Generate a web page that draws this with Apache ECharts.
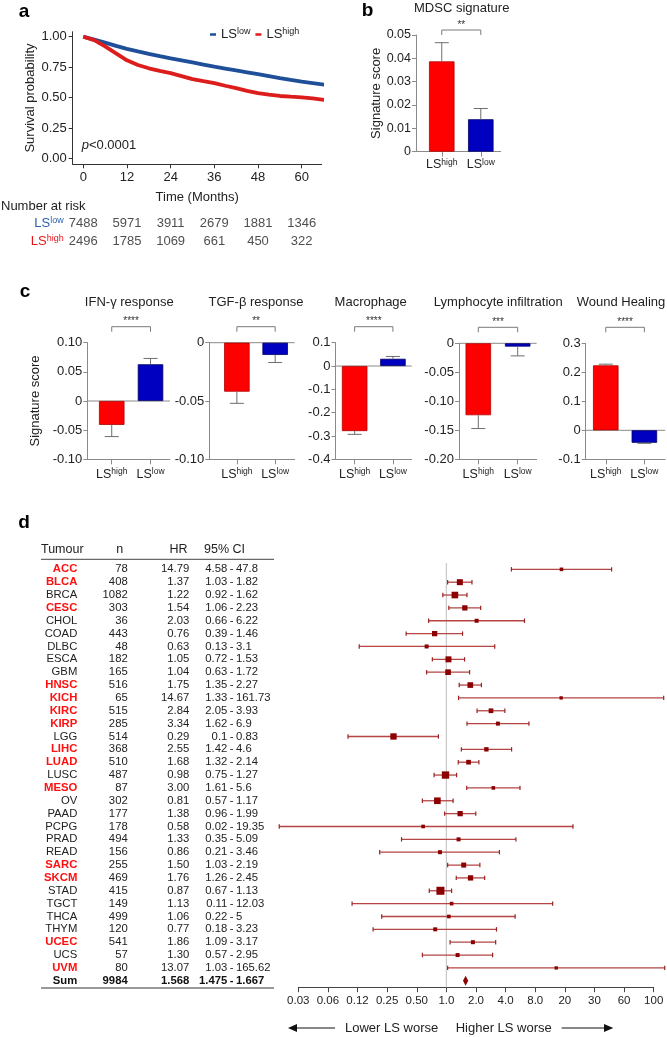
<!DOCTYPE html>
<html>
<head>
<meta charset="utf-8">
<script src="https://cdn.jsdelivr.net/npm/echarts@6/dist/echarts.min.js"></script>
<style>
  html, body { margin: 0; padding: 0; background: #fff; }
  #chart { width: 667px; height: 1037px; }
</style>
</head>
<body>
<div id="chart"></div>
<script>
// ---- a: survival curves + number at risk ----
var kmMonths = [0, 3, 6, 9, 12, 15, 18, 21, 24, 27, 30, 33, 36, 39, 42, 45, 48, 51, 54, 57, 60, 63, 67]
var kmLow = [1.0, 0.976, 0.951, 0.925, 0.9, 0.879, 0.859, 0.84, 0.823, 0.806, 0.789, 0.772, 0.755, 0.739, 0.723, 0.708, 0.693, 0.677, 0.661, 0.646, 0.632, 0.62, 0.604]
var kmHigh = [1.0, 0.972, 0.92, 0.864, 0.806, 0.768, 0.741, 0.72, 0.702, 0.677, 0.652, 0.635, 0.62, 0.598, 0.578, 0.556, 0.538, 0.525, 0.514, 0.508, 0.503, 0.495, 0.478]
var kmTicks = [0, 12, 24, 36, 48, 60]
var survTicks = [0, 0.25, 0.5, 0.75, 1]
var riskTimes = [0, 12, 24, 36, 48, 60]
var riskLow = [7488, 5971, 3911, 2679, 1881, 1346]
var riskHigh = [2496, 1785, 1069, 661, 450, 322]

// ---- b: MDSC signature (LShigh, LSlow) ----
var mdscMean = [0.0387, 0.0139]
var mdscSem = [0.008, 0.0046]

// ---- c: signature scores ----
var sigNames = ['IFN-γ response', 'TGF-β response', 'Macrophage', 'Lymphocyte infiltration', 'Wound Healing']
var sigHigh = [-0.041, -0.042, -0.279, -0.124, 0.224]
var sigHighSem = [0.020, 0.010, 0.014, 0.023, 0.004]
var sigLow = [0.063, -0.0105, 0.031, -0.0057, -0.043]
var sigLowSem = [0.010, 0.0065, 0.010, 0.016, 0.002]
var sigStars = ['****', '**', '****', '***', '****']

// ---- d: forest plot ----
var tumours = ['ACC', 'BLCA', 'BRCA', 'CESC', 'CHOL', 'COAD', 'DLBC', 'ESCA', 'GBM', 'HNSC', 'KICH', 'KIRC', 'KIRP', 'LGG', 'LIHC', 'LUAD',
  'LUSC', 'MESO', 'OV', 'PAAD', 'PCPG', 'PRAD', 'READ', 'SARC', 'SKCM', 'STAD', 'TGCT', 'THCA', 'THYM', 'UCEC', 'UCS', 'UVM']
var nPat = [78, 408, 1082, 303, 36, 443, 48, 182, 165, 516, 65, 515, 285, 514, 368, 510, 487, 87, 302, 177, 178, 494, 156, 255, 469, 415, 149, 499, 120, 541, 57, 80]
var hr = [14.79, 1.37, 1.22, 1.54, 2.03, 0.76, 0.63, 1.05, 1.04, 1.75, 14.67, 2.84, 3.34, 0.29, 2.55, 1.68, 0.98, 3.00, 0.81, 1.38, 0.58, 1.33, 0.86, 1.50, 1.76, 0.87, 1.13, 1.06, 0.77, 1.86, 1.30, 13.07]
var ciLo = [4.58, 1.03, 0.92, 1.06, 0.66, 0.39, 0.13, 0.72, 0.63, 1.35, 1.33, 2.05, 1.62, 0.1, 1.42, 1.32, 0.75, 1.61, 0.57, 0.96, 0.02, 0.35, 0.21, 1.03, 1.26, 0.67, 0.11, 0.22, 0.18, 1.09, 0.57, 1.03]
var ciHi = [47.8, 1.82, 1.62, 2.23, 6.22, 1.46, 3.1, 1.53, 1.72, 2.27, 161.73, 3.93, 6.9, 0.83, 4.6, 2.14, 1.27, 5.6, 1.17, 1.99, 19.35, 5.09, 3.46, 2.19, 2.45, 1.13, 12.03, 5, 3.23, 3.17, 2.95, 165.62]
// relative study weight (box area)
var weight = [13, 36, 44, 28, 16, 28, 16, 36, 32, 32, 11, 22, 16, 40, 19, 22, 54, 13, 44, 28, 13, 16, 16, 25, 28, 64, 13, 13, 16, 16, 16, 11]
var sumN = 9984
var sumHr = '1.568'
var sumLo = '1.475'
var sumHi = '1.667'
var hrTicks = ['0.03', '0.06', '0.12', '0.25', '0.50', '1.0', '2.0', '4.0', '8.0', '20', '30', '60', '100']

var FONT = '"Liberation Sans", Arial, sans-serif'
var GREY = '#8a8a8a'
var BLUE = '#1f4f99'
var KMRED = '#dd1c1c'

var grids = [], xAxes = [], yAxes = [], series = [], gfx = []

function txt (x, y, text, o) {
  o = o || {}
  var al = o.align || 'left'
  gfx.push({
    type: 'text', x: x, y: y, silent: true,
    style: {
      text: text, fill: o.color || '#222', fontSize: o.size || 13, fontWeight: o.weight || 'normal',
      fontFamily: FONT, align: al, textAlign: al, verticalAlign: 'middle', textVerticalAlign: 'middle', rich: o.rich
    }
  })
}
function seg (x1, y1, x2, y2, color, w) {
  gfx.push({ type: 'line', silent: true, shape: { x1: x1, y1: y1, x2: x2, y2: y2 }, style: { stroke: color, lineWidth: w || 1 } })
}
function lsRich (size, sup, color) {
  return {
    t: { fontSize: size, fontFamily: FONT, color: color, lineHeight: size + 2 },
    s: { fontSize: sup, fontFamily: FONT, color: color, verticalAlign: 'top', lineHeight: sup + 1 }
  }
}

// ---------- panel a ----------
grids.push({ left: 72.7, top: 31.7, width: 249, height: 132.6 })
xAxes.push({
  type: 'value', gridIndex: 0, min: -2.9, max: 65.5,
  axisLine: { show: true, onZero: false, lineStyle: { color: '#333' } },
  axisTick: { show: true, customValues: kmTicks, length: 4, lineStyle: { color: '#333' } },
  axisLabel: { customValues: kmTicks, fontSize: 13, color: '#222', margin: 7 },
  splitLine: { show: false },
  name: 'Time (Months)', nameLocation: 'middle', nameGap: 27, nameTextStyle: { fontSize: 13, color: '#222' }
})
yAxes.push({
  type: 'value', gridIndex: 0, min: -0.046, max: 1.041,
  axisLine: { show: true, onZero: false, lineStyle: { color: '#333' } },
  axisTick: { show: true, customValues: survTicks, length: 4, lineStyle: { color: '#333' } },
  axisLabel: { customValues: survTicks, fontSize: 13, color: '#222', margin: 6, formatter: function (v) { return v.toFixed(2) } },
  splitLine: { show: false },
  name: 'Survival probability', nameLocation: 'middle', nameGap: 36, nameRotate: 90, nameTextStyle: { fontSize: 13, color: '#222' }
})
series.push({
  type: 'line', name: 'LSlow', xAxisIndex: 0, yAxisIndex: 0, symbol: 'none', clip: false, z: 3,
  lineStyle: { width: 3.8, color: BLUE }, itemStyle: { color: BLUE },
  data: kmMonths.map(function (m, i) { return [m, kmLow[i]] })
})
series.push({
  type: 'line', name: 'LShigh', xAxisIndex: 0, yAxisIndex: 0, symbol: 'none', clip: false, z: 4,
  lineStyle: { width: 3.8, color: KMRED }, itemStyle: { color: KMRED },
  data: kmMonths.map(function (m, i) { return [m, kmHigh[i]] })
})

// number at risk table: row 1 = LSlow, row 0 = LShigh
grids.push({ left: 72.7, top: 214.1, width: 249, height: 36.8 })
xAxes.push({ type: 'value', gridIndex: 1, min: -2.9, max: 65.5, show: false })
yAxes.push({
  type: 'value', gridIndex: 1, min: -0.5, max: 1.5,
  axisLine: { show: false }, axisTick: { show: false }, splitLine: { show: false },
  axisLabel: {
    customValues: [0, 1], margin: 9,
    formatter: function (v) { return v > 0.5 ? '{lt|LS}{ls|low}' : '{ht|LS}{hs|high}' },
    rich: {
      lt: { fontSize: 13, color: '#2a62b0', lineHeight: 15 },
      ls: { fontSize: 9, color: '#2a62b0', verticalAlign: 'top', lineHeight: 10 },
      ht: { fontSize: 13, color: '#e8141c', lineHeight: 15 },
      hs: { fontSize: 9, color: '#e8141c', verticalAlign: 'top', lineHeight: 10 }
    }
  }
})
function riskSeries (row, vals) {
  return {
    type: 'scatter', xAxisIndex: 1, yAxisIndex: 1, symbolSize: 1, silent: true,
    itemStyle: { color: 'rgba(0,0,0,0)' },
    label: { show: true, position: 'inside', fontSize: 13, color: '#222', formatter: function (p) { return p.value[2] } },
    data: riskTimes.map(function (t, i) { return [t, row, vals[i]] })
  }
}
series.push(riskSeries(1, riskLow))
series.push(riskSeries(0, riskHigh))

// ---------- bar panels (b, c) ----------
function errRender (params, api) {
  var x = api.value(0), m = api.value(1), s = api.value(2)
  var end = m + (m >= 0 ? s : -s)
  var p0 = api.coord([x, m]), p1 = api.coord([x, end])
  return {
    type: 'group',
    children: [
      { type: 'line', shape: { x1: p0[0], y1: p0[1], x2: p1[0], y2: p1[1] }, style: { stroke: '#6e6e6e', lineWidth: 1 } },
      { type: 'line', shape: { x1: p1[0] - 7, y1: p1[1], x2: p1[0] + 7, y2: p1[1] }, style: { stroke: '#6e6e6e', lineWidth: 1 } }
    ]
  }
}
function bracketRender (stars, gap, zero) {
  return function (params, api) {
    var cs = params.coordSys
    var xa = api.coord([0, 0])[0], xb = api.coord([1, 0])[0]
    var y0 = api.coord([0, 0])[1]
    var y = cs.y - gap
    var kids = [
      { type: 'polyline', shape: { points: [[xa, y + 5], [xa, y], [xb, y], [xb, y + 5]] }, style: { stroke: '#7a7a7a', lineWidth: 1, fill: null } },
      { type: 'text', x: (xa + xb) / 2, y: y - 5, style: { text: stars, fill: '#333', fontSize: 10, fontFamily: FONT, align: 'center', textAlign: 'center', verticalAlign: 'middle', textVerticalAlign: 'middle' } }
    ]
    if (zero) {
      kids.push({ type: 'line', shape: { x1: cs.x, y1: y0, x2: cs.x + cs.width, y2: y0 }, style: { stroke: GREY, lineWidth: 1 } })
    }
    return { type: 'group', children: kids }
  }
}
function barPanel (L, means, sems, stars) {
  var gi = grids.length
  grids.push({ left: L.left, top: L.top, width: L.width, height: L.height })
  xAxes.push({
    type: 'value', gridIndex: gi, min: L.xmin, max: L.xmax,
    axisLine: { show: true, onZero: false, lineStyle: { color: GREY } },
    axisTick: { show: true, customValues: [0, 1], length: 5, lineStyle: { color: GREY } },
    axisLabel: {
      customValues: [0, 1], margin: L.lm,
      formatter: function (v) { return v < 0.5 ? '{t|LS}{s|high}' : '{t|LS}{s|low}' },
      rich: lsRich(12.5, 8.5, '#222')
    },
    splitLine: { show: false }
  })
  yAxes.push({
    type: 'value', gridIndex: gi, min: L.ymin, max: L.ymax, interval: L.step,
    axisLine: { show: true, onZero: false, lineStyle: { color: GREY } },
    axisTick: { show: true, length: 4, lineStyle: { color: GREY } },
    axisLabel: {
      fontSize: L.fs, color: '#222', margin: 5,
      formatter: function (v) { return Math.abs(v) < 1e-9 ? '0' : v.toFixed(L.dec) }
    },
    splitLine: { show: false },
    name: L.yname || '', nameLocation: 'middle', nameGap: L.ngap || 30, nameRotate: 90,
    nameTextStyle: { fontSize: 13, color: '#222' }
  })
  series.push({
    type: 'bar', xAxisIndex: gi, yAxisIndex: gi, barWidth: 25.5, z: 2, silent: true,
    data: [
      { value: [0, means[0]], itemStyle: { color: '#ff0000', borderColor: '#b00000', borderWidth: 0.8 } },
      { value: [1, means[1]], itemStyle: { color: '#0000c0', borderColor: '#000066', borderWidth: 0.8 } }
    ]
  })
  series.push({
    type: 'custom', xAxisIndex: gi, yAxisIndex: gi, z: 3, silent: true,
    renderItem: errRender,
    data: [[0, means[0], sems[0]], [1, means[1], sems[1]]]
  })
  series.push({
    type: 'custom', xAxisIndex: gi, yAxisIndex: gi, z: 1, silent: true,
    renderItem: bracketRender(stars, L.bgap, L.zero),
    data: [[0, 0]]
  })
  txt(L.tx, L.ty, L.title, { align: 'center' })
}

// panel b
barPanel({ left: 416, top: 35, width: 84.7, height: 116.7, xmin: -0.66, xmax: 1.51, ymin: 0, ymax: 0.05, step: 0.01, dec: 2, fs: 12.5,
  lm: 6, yname: 'Signature score', ngap: 29.5, bgap: 5, tx: 461.7, ty: 8, title: 'MDSC signature' },
mdscMean, mdscSem, '**')

// panel c
var cLayout = [
  { left: 87.3, width: 82.6, top: 342.7, height: 116.6, xmin: -0.63, xmax: 1.50, ymin: -0.1, ymax: 0.1, step: 0.05, dec: 2, tx: 129.3, yname: 'Signature score', ngap: 45 },
  { left: 209.3, width: 85.4, top: 342.7, height: 116.6, xmin: -0.72, xmax: 1.51, ymin: -0.1, ymax: 0, step: 0.05, dec: 2, tx: 256 },
  { left: 335.5, width: 76.2, top: 342.7, height: 116.6, xmin: -0.50, xmax: 1.49, ymin: -0.4, ymax: 0.1, step: 0.1, dec: 1, tx: 370.7 },
  { left: 459, width: 77.6, top: 343.3, height: 116, xmin: -0.49, xmax: 1.48, ymin: -0.2, ymax: 0, step: 0.05, dec: 2, tx: 498.3 },
  { left: 585.7, width: 79.5, top: 343.3, height: 116, xmin: -0.52, xmax: 1.54, ymin: -0.1, ymax: 0.3, step: 0.1, dec: 1, tx: 621 }
]
cLayout.forEach(function (L, k) {
  L.lm = 8
  L.fs = 13
  L.zero = true
  L.bgap = 16
  L.ty = 302.7
  L.title = sigNames[k]
  barPanel(L, [sigHigh[k], sigLow[k]], [sigHighSem[k], sigLowSem[k]], sigStars[k])
})

// ---------- panel d: forest plot (x = log2 HR, y = row index) ----------
var fg = grids.length
grids.push({ left: 298.3, top: 562.9, right: 13.3, bottom: 49.8 })
xAxes.push({
  type: 'value', gridIndex: fg, min: -5, max: 7, interval: 1,
  axisLine: { show: true, onZero: false, lineStyle: { color: '#444' } },
  axisTick: { show: true, length: 5, lineStyle: { color: '#444' } },
  axisLabel: { fontSize: 11.5, color: '#222', margin: 8, formatter: function (v) { return hrTicks[Math.round(v) + 5] } },
  splitLine: { show: false }
})
yAxes.push({ type: 'value', gridIndex: fg, min: -0.5, max: tumours.length + 0.5, inverse: true, show: false })

var COL = { name: 77.3, n: 127.7, hr: 189.3, lo: 227.3, dash: 231.7, hi: 236 }
function cell (x, y, text, align, color, bold) {
  return {
    type: 'text', x: x, y: y,
    style: { text: text, fill: color, fontSize: 11.3, fontWeight: bold ? 'bold' : 'normal', fontFamily: FONT,
      align: align, textAlign: align, verticalAlign: 'middle', textVerticalAlign: 'middle' }
  }
}
// reference line at HR = 1
series.push({
  type: 'custom', xAxisIndex: fg, yAxisIndex: fg, silent: true, z: 1,
  renderItem: function (params, api) {
    var cs = params.coordSys
    var x = api.coord([api.value(0), 0])[0]
    return { type: 'line', shape: { x1: x, y1: cs.y, x2: x, y2: cs.y + cs.height }, style: { stroke: '#c8c8c8', lineWidth: 1.2 } }
  },
  data: [[0, 0]]
})
series.push({
  type: 'custom', xAxisIndex: fg, yAxisIndex: fg, silent: true, clip: false, z: 3,
  renderItem: function (params, api) {
    var i = params.dataIndex
    var r = api.value(3)
    var pl = api.coord([api.value(0), r]), pm = api.coord([api.value(1), r]), ph = api.coord([api.value(2), r])
    var y = pm[1]
    var s = Math.sqrt(api.value(4))
    var sig = ciLo[i] > 1
    return {
      type: 'group',
      children: [
        { type: 'line', shape: { x1: pl[0], y1: y, x2: ph[0], y2: y }, style: { stroke: '#b54545', lineWidth: 1.3 } },
        { type: 'line', shape: { x1: pl[0], y1: y - 2.2, x2: pl[0], y2: y + 2.2 }, style: { stroke: '#992222', lineWidth: 1.2 } },
        { type: 'line', shape: { x1: ph[0], y1: y - 2.2, x2: ph[0], y2: y + 2.2 }, style: { stroke: '#992222', lineWidth: 1.2 } },
        { type: 'rect', shape: { x: pm[0] - s / 2, y: y - s / 2, width: s, height: s }, style: { fill: '#8b0000' } },
        cell(COL.name, y, tumours[i], 'right', sig ? '#ff1010' : '#222', sig),
        cell(COL.n, y, String(nPat[i]), 'right', '#222', false),
        cell(COL.hr, y, hr[i].toFixed(2), 'right', '#222', false),
        cell(COL.lo, y, String(ciLo[i]), 'right', '#222', false),
        cell(COL.dash, y, '-', 'center', '#222', false),
        cell(COL.hi, y, String(ciHi[i]), 'left', '#222', false)
      ]
    }
  },
  data: tumours.map(function (t, i) {
    return [Math.log2(ciLo[i]), Math.log2(hr[i]), Math.log2(ciHi[i]), i, weight[i]]
  })
})
series.push({
  type: 'custom', xAxisIndex: fg, yAxisIndex: fg, silent: true, clip: false, z: 3,
  renderItem: function (params, api) {
    var r = api.value(3)
    var pl = api.coord([api.value(0), r]), pm = api.coord([api.value(1), r]), ph = api.coord([api.value(2), r])
    var y = pm[1]
    return {
      type: 'group',
      children: [
        { type: 'polygon', shape: { points: [[pl[0], y], [pm[0], y - 5], [ph[0], y], [pm[0], y + 5]] }, style: { fill: '#8b0000' } },
        cell(COL.name, y, 'Sum', 'right', '#111', true),
        cell(COL.n, y, String(sumN), 'right', '#111', true),
        cell(COL.hr, y, sumHr, 'right', '#111', true),
        cell(COL.lo, y, sumLo, 'right', '#111', true),
        cell(COL.dash, y, '-', 'center', '#111', true),
        cell(COL.hi, y, sumHi, 'left', '#111', true)
      ]
    }
  },
  data: [[Math.log2(+sumLo), Math.log2(+sumHr), Math.log2(+sumHi), tumours.length]]
})

// table header and rules
txt(41, 550, 'Tumour', { size: 12.5 })
txt(119.7, 550, 'n', { size: 12.5, align: 'center' })
txt(187.5, 550, 'HR', { size: 12.5, align: 'right' })
txt(204, 550, '95% CI', { size: 12.5 })
seg(41, 559.3, 274, 559.3, '#444', 1)
seg(41, 988, 274, 988, '#777', 1.6)

// direction arrows
seg(296, 1028, 335, 1028, '#111', 1)
gfx.push({ type: 'polygon', silent: true, shape: { points: [[288, 1028], [297, 1024], [297, 1032]] }, style: { fill: '#111' } })
seg(561.7, 1028, 605, 1028, '#111', 1)
gfx.push({ type: 'polygon', silent: true, shape: { points: [[613.3, 1028], [604, 1024], [604, 1032]] }, style: { fill: '#111' } })
txt(345, 1028, 'Lower LS worse', { size: 13 })
txt(455.7, 1028, 'Higher LS worse', { size: 13 })

// panel a extras
txt(1, 206.7, 'Number at risk', { size: 13 })
txt(81.7, 145, '{i|p}<0.0001', { size: 13, rich: { i: { fontStyle: 'italic', fontSize: 13, fontFamily: FONT, fill: '#222' } } })

// panel letters
txt(24, 12, 'a', { size: 19, weight: 'bold', align: 'center', color: '#000' })
txt(367.5, 11, 'b', { size: 19, weight: 'bold', align: 'center', color: '#000' })
txt(25, 292, 'c', { size: 19, weight: 'bold', align: 'center', color: '#000' })
txt(24, 523, 'd', { size: 19, weight: 'bold', align: 'center', color: '#000' })

var chart = echarts.init(document.getElementById('chart'))
chart.setOption({
  animation: false,
  textStyle: { fontFamily: FONT },
  legend: {
    data: ['LSlow', 'LShigh'], left: 210, top: 27, padding: 0,
    icon: 'rect', itemWidth: 6, itemHeight: 2.5, itemGap: 5, selectedMode: false,
    formatter: function (n) { return '{t|LS}{s|' + n.slice(2) + '}' },
    textStyle: { color: '#222', rich: lsRich(13, 9, '#222') }
  },
  grid: grids,
  xAxis: xAxes,
  yAxis: yAxes,
  series: series,
  graphic: { elements: gfx }
})
</script>
</body>
</html>
